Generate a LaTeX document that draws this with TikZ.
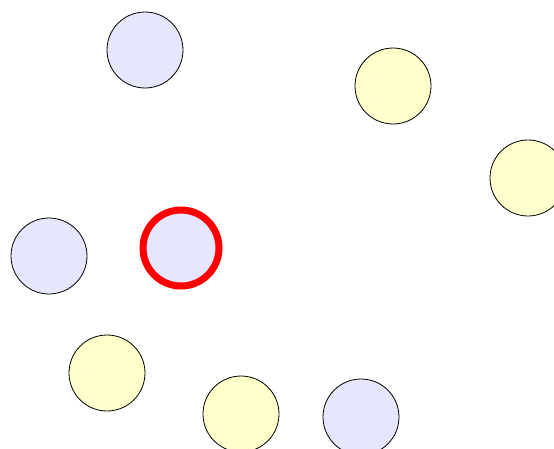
\documentclass[tikz,border=0pt]{standalone}
\begin{document}
\begin{tikzpicture}[x=1pt,y=-1pt,
  dot/.style={circle,draw=black,line width=0.8pt,minimum size=76pt,inner sep=0pt},
  bluedot/.style={dot,fill=blueF},
  yellowdot/.style={dot,fill=yellowF},
  chosen/.style={draw=red,line width=7pt,minimum size=76pt}]
\definecolor{blueF}{HTML}{E6E6FF}
\definecolor{yellowF}{HTML}{FFFFCC}
\useasboundingbox (0,0) rectangle (554,448);
\clip (0,0) rectangle (554,448);
\node[bluedot] (b1) at (145,50) {};
\node[yellowdot] (y1) at (393,86) {};
\node[yellowdot] (y2) at (528,178) {};
\node[bluedot] (b2) at (49,256) {};
\node[bluedot,chosen] (b3) at (181,248) {};
\node[yellowdot] (y3) at (107,373) {};
\node[yellowdot] (y4) at (241,414) {};
\node[bluedot] (b4) at (361,417) {};
\end{tikzpicture}
\end{document}
